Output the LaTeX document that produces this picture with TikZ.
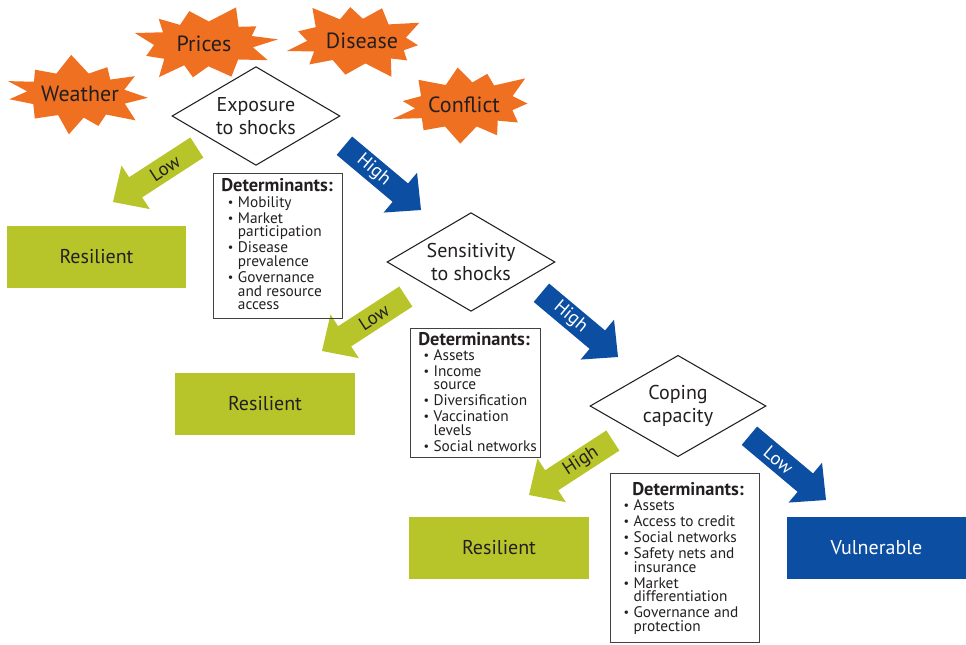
\documentclass[tikz,border=0pt]{standalone}
\usepackage{fontspec}
\setmainfont{PT Sans}
\usetikzlibrary{shapes.geometric}
\definecolor{burst}{HTML}{F07022}
\definecolor{lime}{HTML}{B7C52A}
\definecolor{navy}{HTML}{0B4EA2}
\definecolor{ink}{HTML}{231F20}
\newcommand{\bul}{\hspace*{5pt}\makebox[7.5pt][l]{\raisebox{0.7pt}{\scalebox{0.8}{\textbullet}}}}
\newcommand{\cont}{\hspace*{12.5pt}}
\newcommand{\dhead}[1]{{\fontsize{13.8}{10}\bfseries #1}}
\newcommand{\tightlines}{\lineskiplimit=-6pt\relax\lineskip=0pt\relax}
% #1 centre, #2 seed, #3 rotation
\newcommand{\burstshape}[3]{%
  \fill[burst, shift={#1}, rotate=#3] plot[samples at={0,...,21}, variable=\k]
   ({ifthenelse(mod(\k,2)==0, 76*(0.9+0.1*sin(\k*73+#2)), 50)*cos(\k*360/22+4*sin(\k*51+#2))},
    {ifthenelse(mod(\k,2)==0, 40*(0.9+0.1*sin(\k*73+#2)), 22.5)*sin(\k*360/22+4*sin(\k*51+#2))})
   -- cycle;}
% #1 name, #2 tip, #3 angle, #4 fill, #5 text colour, #6 text rotation, #7 label
\newcommand{\blockarr}[7]{%
  \begin{scope}[shift={#2}, rotate=#3]
    \fill[#4] (0,0) -- (-27,26) -- (-27,12) -- (-100,12) -- (-100,-12)
      -- (-27,-12) -- (-27,-26) -- cycle;
    \node[arrowlabel, text=#5, transform shape, rotate=#6] (#1) at (-62,0) {#7};
  \end{scope}}
\begin{document}
\begin{tikzpicture}[x=0.75pt,y=0.75pt,
  bursttext/.style={inner sep=0pt, text=ink, font=\fontsize{16.5}{18}\selectfont},
  decision/.style={diamond, draw=ink, line width=0.8pt, aspect=1.72, inner sep=0pt,
    minimum width=126pt, minimum height=74pt, align=center, text=ink,
    font=\fontsize{15}{17.5}\selectfont},
  resbox/.style={rectangle, minimum width=134.5pt, minimum height=46.5pt,
    font=\fontsize{15}{17}\selectfont},
  detbox/.style={rectangle, draw=ink!85, line width=0.9pt, anchor=north west},
  dettext/.style={anchor=north west, inner sep=0pt, align=left, text=ink,
    font={\fontsize{11.5}{10.2}\selectfont\tightlines}},
  arrowlabel/.style={inner sep=0pt, font=\fontsize{14}{15}\selectfont}
]
\useasboundingbox (0,0) rectangle (966,644);

% shocks
\burstshape{(77,549)}{20}{-3}
\node[bursttext] (weather) at (80,550) {Weather};
\burstshape{(204,600)}{130}{2}
\node[bursttext] (prices) at (204,600) {Prices};
\burstshape{(357,603)}{250}{-2}
\node[bursttext] (disease) at (362,603) {Disease};
\burstshape{(465,539)}{310}{3}
\node[bursttext] (conflict) at (464,539) {Conflict};

% decisions
\node[decision] (exposure) at (256,528) {Exposure\\to shocks};
\node[decision] (sensitivity) at (471,382) {Sensitivity\\to shocks};
\node[decision, minimum width=132pt, minimum height=76pt] (coping) at (678,238) {Coping\\capacity};

% outcomes
\node[resbox, fill=lime, text=ink] (res1) at (96.5,387) {Resilient};
\node[resbox, fill=lime, text=ink] (res2) at (265,240) {Resilient};
\node[resbox, fill=lime, text=ink] (res3) at (499,96) {Resilient};
\node[resbox, fill=navy, text=white] (vuln) at (876.5,96) {Vulnerable};

% block arrows
\blockarr{high1}{(421,434)}{-40}{navy}{white}{0}{High}
\blockarr{low1}{(113,442)}{213}{lime}{ink}{180}{Low}
\blockarr{low2}{(322,293)}{213}{lime}{ink}{180}{Low}
\blockarr{high2}{(618,287)}{-40}{navy}{white}{0}{High}
\blockarr{high3}{(529,149)}{213}{lime}{ink}{180}{High}
\blockarr{low3}{(826,144)}{-40}{navy}{white}{0}{Low}

% determinant boxes
\node[detbox, minimum width=96.75pt, minimum height=108.75pt] (det1) at (213,471) {};
\node[dettext] (det1t) at ([xshift=6pt,yshift=-4pt]det1.north west) {%
\dhead{Determinants:}\\[1.5pt]
\bul Mobility\\[1.8pt]
\bul Market\\
\cont participation\\[1.8pt]
\bul Disease\\
\cont prevalence\\[1.8pt]
\bul Governance\\
\cont and resource\\
\cont access};

\node[detbox, minimum width=97.5pt, minimum height=96.75pt] (det2) at (410,316) {};
\node[dettext] (det2t) at ([xshift=6pt,yshift=-3pt]det2.north west) {%
\dhead{Determinants:}\\[1pt]
\hspace*{-1pt}\bul Assets\\[1.8pt]
\hspace*{-1pt}\bul Income\\
\hspace*{-1pt}\cont source\\[1.8pt]
\hspace*{-1pt}\bul Diversification\\[1.8pt]
\hspace*{-1pt}\bul Vaccination\\
\hspace*{-1pt}\cont levels\\[1.8pt]
\hspace*{-1pt}\bul Social networks};

\node[detbox, minimum width=111.75pt, minimum height=126.75pt] (det3) at (610,171) {};
\node[dettext] (det3t) at ([xshift=5pt,yshift=-7pt]det3.north west) {%
\hspace*{11.5pt}\dhead{Determinants:}\\[1pt]
\bul Assets\\[1.8pt]
\bul Access to credit\\[1.8pt]
\bul Social networks\\[1.8pt]
\bul Safety nets and\\
\cont insurance\\[1.8pt]
\bul Market\\
\cont differentiation\\[1.8pt]
\bul Governance and\\
\cont protection};
\end{tikzpicture}
\end{document}
